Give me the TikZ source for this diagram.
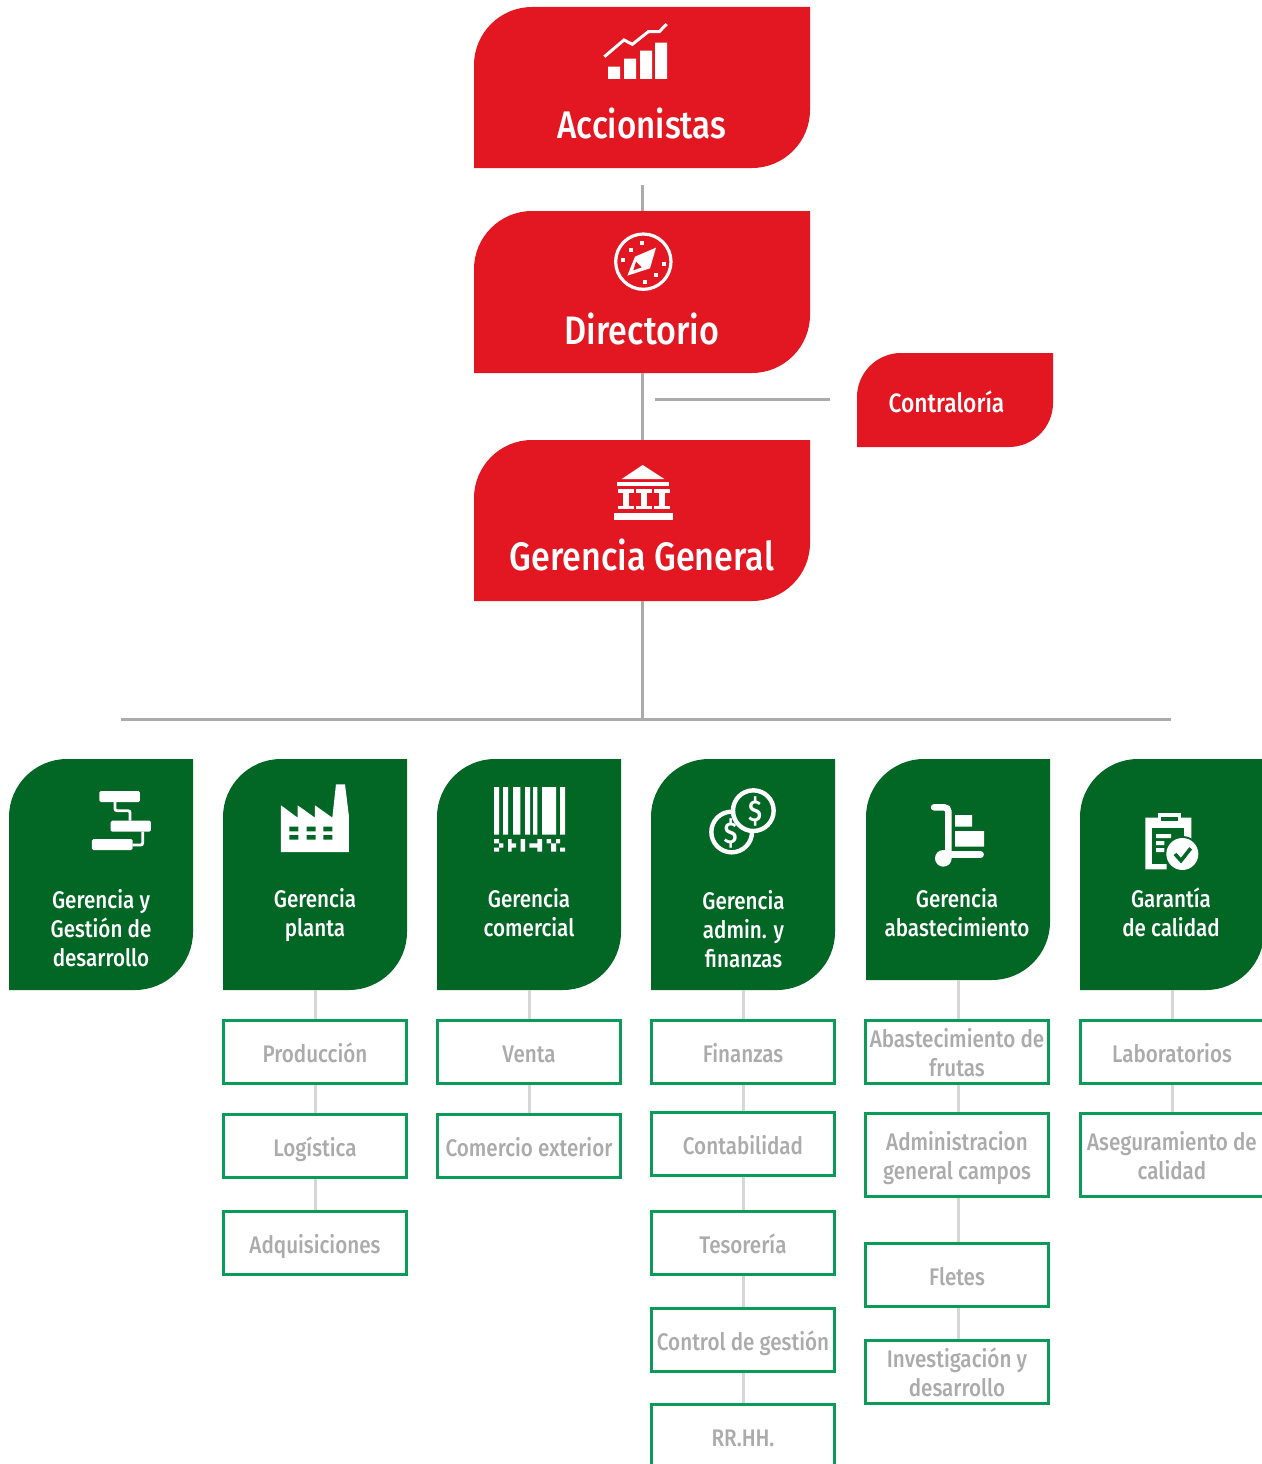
\documentclass[tikz,border=0pt]{standalone}
\usepackage{fontspec}
\setmainfont[FakeStretch=0.86]{Fira Sans}
\newfontfamily\headf[FakeStretch=0.86]{Fira Sans Medium}
\definecolor{myred}{HTML}{E21721}
\definecolor{mygreen}{HTML}{026625}
\definecolor{boxg}{HTML}{0A9B58}
\definecolor{linegrey}{HTML}{ABABAB}
\definecolor{sublinegrey}{HTML}{D6D6D6}
\definecolor{subtext}{HTML}{ABABAB}
% name, x1, y1, x2, y2, radius, colour
\newcommand{\leafnode}[7]{%
  \pgfmathsetmacro{\lcx}{(#2+#4)/2}\pgfmathsetmacro{\lcy}{(#3+#5)/2}%
  \pgfmathsetmacro{\lw}{#4-#2}\pgfmathsetmacro{\lh}{#5-#3}%
  \node[inner sep=0,outer sep=0,minimum width=\lw pt,minimum height=\lh pt] (#1) at (\lcx,\lcy) {};
  \fill[#7] (#2,#5) -- (#2,#3+#6) .. controls (#2,#3+0.45*#6) and (#2+0.45*#6,#3) .. (#2+#6,#3) -- (#4,#3) -- (#4,#5-#6) .. controls (#4,#5-0.45*#6) and (#4-0.45*#6,#5) .. (#4-#6,#5) -- cycle;
}
\tikzset{
  subbox/.style={draw=boxg,line width=3pt,fill=white,inner sep=0,outer sep=0},
  subtxt/.style={inner sep=0,outer sep=0,align=center,anchor=south,text depth=0pt,font=\headf\fontsize{24}{29}\selectfont,text=subtext},
  conn/.style={draw=linegrey,line width=3pt},
  subconn/.style={draw=sublinegrey,line width=3pt},
  hd/.style={text=white,align=center,inner sep=0},
  pin/.style={inner sep=0,minimum size=0},
  gt/.style={hd,font=\headf\fontsize{24}{29}\selectfont},
  bigt/.style={hd,font=\headf\fontsize{39.7}{44}\selectfont},
  icon/.style={shift={#1},scale=1/3},
}
% name, cx, cy, w, h, last baseline offset, text
\newcommand{\subb}[7]{\node[subbox,minimum width=#4 pt,minimum height=#5 pt] (#1) at (#2,#3) {};
  \node[subtxt] (#1t) at (#2,#3+#6) {#7};}
\begin{document}
\begin{tikzpicture}[x=1pt,y=1pt,yscale=-1]
\useasboundingbox (0,0) rectangle (1261,1464);
\fill[white] (0,0) rectangle (1261,1464);
\node[pin] (busleft) at (121,719) {};
\node[pin] (busright) at (1171,719) {};
\node[pin] (busmid) at (642,719) {};
\node[pin] (stubtop) at (642,185) {};
\node[pin] (branchl) at (655,399) {};
\node[pin] (branchr) at (830,399) {};
\leafnode{acc}{474}{7}{810}{168}{58}{myred}
\leafnode{dir}{474}{211}{810}{373}{58}{myred}
\leafnode{gen}{474}{440}{810}{601}{58}{myred}
\leafnode{con}{857}{353}{1053}{447}{44}{myred}
\draw[conn] (stubtop) -- (dir);
\draw[conn] (dir) -- (gen);
\draw[conn] (branchl) -- (branchr);
\draw[conn] (gen) -- (busmid);
\draw[conn] (busleft) -- (busright);
\node[hd,font=\headf\fontsize{38.5}{44}\selectfont] (acct) at (642,123) {Accionistas};
\node[bigt] (dirt) at (642,329) {Directorio};
\node[bigt] (gent) at (642,555) {Gerencia General};
\node[hd,font=\headf\fontsize{26.5}{32}\selectfont] (cont) at (946.5,402) {Contraloría};
\leafnode{g1}{9}{759}{193}{990}{58}{mygreen}
\leafnode{g2}{223}{759}{407}{990}{58}{mygreen}
\leafnode{g3}{437}{759}{621}{990}{58}{mygreen}
\leafnode{g4}{651}{759}{835}{990}{58}{mygreen}
\leafnode{g5}{866}{759}{1050}{980}{58}{mygreen}
\leafnode{g6}{1080}{759}{1264}{990}{58}{mygreen}
\node[gt] (g1t) at (101,928) {Gerencia y\\Gestión de\\desarrollo};
\node[gt] (g2t) at (315,915.5) {Gerencia\\planta};
\node[gt] (g3t) at (529,913) {Gerencia\\comercial};
\node[gt] (g4t) at (743.5,929) {Gerencia\\admin. y\\finanzas};
\node[gt] (g5t) at (957,913) {Gerencia\\abastecimiento};
\node[gt] (g6t) at (1171,912.5) {Garantía\\de calidad};
% sub connectors
\node[pin] (c2) at (315,1245) {};
\node[pin] (c3) at (529,1148) {};
\node[pin] (c4) at (743,1440) {};
\node[pin] (c5) at (958,1370) {};
\node[pin] (c6) at (1172,1155) {};
\draw[subconn] (g2) -- (c2);
\draw[subconn] (g3) -- (c3);
\draw[subconn] (g4) -- (c4);
\draw[subconn] (g5) -- (c5);
\draw[subconn] (g6) -- (c6);
\subb{s21}{315}{1052}{183}{63}{10}{Producción}
\subb{s22}{315}{1146}{183}{63}{10}{Logística}
\subb{s23}{315}{1243}{183}{63}{10}{Adquisiciones}
\subb{s31}{529}{1052}{183}{63}{10}{Venta}
\subb{s32}{529}{1146}{183}{63}{10}{Comercio exterior}
\subb{s41}{743}{1052}{183}{63}{10}{Finanzas}
\subb{s42}{743}{1144}{183}{63}{10}{Contabilidad}
\subb{s43}{743}{1243}{183}{63}{10}{Tesorería}
\subb{s44}{743}{1340}{183}{63}{10}{Control de gestión}
\subb{s45}{743}{1436}{183}{63}{10}{RR.HH.}
\subb{s51}{957}{1052}{183}{63}{24}{Abastecimiento de\\frutas}
\subb{s52}{957}{1154.5}{183}{83}{24.5}{Administracion\\general campos}
\subb{s53}{957}{1275}{183}{63}{10}{Fletes}
\subb{s54}{957}{1372}{183}{63}{24}{Investigación y\\desarrollo}
\subb{s61}{1172}{1052}{183}{63}{10}{Laboratorios}
\subb{s62}{1172}{1154.5}{183}{83}{24.5}{Aseguramiento de\\calidad}
% --- icons: coordinates are 3x, relative to the given origin
% chart
\begin{scope}[icon={(470,0)}]
\draw[white,line width=3pt,miter limit=2] (403,170) -- (462,120) -- (487,133) -- (535,95) -- (568,95) -- (590,72);
\fill[white] (414,200) rectangle (450,237) (462,176) rectangle (498,237) (510,152) rectangle (546,237) (555,128) rectangle (591,237);
\end{scope}
% compass
\begin{scope}[icon={(470,0)}]
\draw[white,line width=3.2pt] (520,785) circle (83);
\fill[white] (558,743) -- (495,770) -- (472,827) -- (540,805) -- cycle;
\fill[myred] (498,785) -- (515,802) -- (490,811) -- cycle;
\foreach \dx/\dy in {516/728,483/749,459/779,582/791,558/824,525/845}
  \fill[white] (\dx-6,\dy-6) rectangle (\dx+6,\dy+6);
\end{scope}
% bank
\begin{scope}[icon={(570,440)}]
\fill[white] (155,117) -- (218,75) -- (283,117) -- cycle;
\fill[white] (141,126) rectangle (297,137);
\fill[white] (132,220) rectangle (309,240);
\foreach \cx in {169,222,275}{
  \fill[white] (\cx-24,147) rectangle (\cx+24,158);
  \fill[white] (\cx-9,158) rectangle (\cx+9,198);
  \fill[white] (\cx-24,198) rectangle (\cx+24,208);
}
\end{scope}
% flow chart
\begin{scope}[icon={(0,750)}]
\fill[white,rounded corners=1.5pt] (298,123) rectangle (420,156) (332,212) rectangle (453,245) (276,267) rectangle (398,300);
\draw[white,line width=2.8pt,rounded corners=2pt] (345,156) -- (345,182) -- (390,182) -- (390,212);
\draw[white,line width=2.8pt,rounded corners=2pt] (428,245) -- (428,285) -- (398,285);
\end{scope}
% factory
\begin{scope}[icon={(0,750)}]
\fill[white] (843,306) -- (843,166) -- (893,203) -- (893,166) -- (945,203) -- (945,166) -- (997,203) -- (1008,103) -- (1035,103) -- (1047,200) -- (1047,306) -- cycle;
\fill[mygreen] (868,230) rectangle (895,244) (920,230) rectangle (947,244) (970,230) rectangle (997,244)
  (868,255) rectangle (895,269) (920,255) rectangle (947,269) (970,255) rectangle (997,269);
\end{scope}
% barcode
\begin{scope}[icon={(430,750)}]
\fill[white] (192,111) rectangle (207,254) (219,111) rectangle (234,254) (249,111) rectangle (271,254) (285,111) rectangle (300,254) (309,111) rectangle (322,254) (336,111) rectangle (378,254) (390,111) rectangle (405,254);
\fill[white] (192,267) rectangle (207,280) (207,280) rectangle (220,293) (192,293) rectangle (207,305)
  (234,267) rectangle (245,305) (245,280) rectangle (258,293)
  (272,267) rectangle (285,305)
  (298,280) rectangle (322,293) (322,267) rectangle (336,305)
  (350,267) rectangle (363,280) (363,280) rectangle (378,305) (378,267) rectangle (390,280)
  (390,293) rectangle (405,305);
\end{scope}
% coins
\begin{scope}[icon={(430,750)}]
\draw[white,line width=4.4pt] (905,246) circle (61);
\node[pin,text=white,font=\headf\fontsize{30}{30}\selectfont] (dollarb) at (902,250) {\$};
\filldraw[fill=mygreen,draw=white,line width=4.4pt] (970,182) circle (61);
\node[pin,text=white,font=\headf\fontsize{30}{30}\selectfont] (dollara) at (975,184) {\$};
\end{scope}
% cart
\begin{scope}[icon={(850,750)}]
\draw[white,line width=6.5pt,line cap=round,rounded corners=4pt] (252,172) -- (295,172) -- (295,310);
\draw[white,line width=6.5pt,line cap=round] (285,314) -- (392,314);
\fill[white] (280,325) circle (25);
\fill[white] (315,195) rectangle (366,230) (315,243) rectangle (402,290);
\end{scope}
% clipboard
\begin{scope}[icon={(850,750)}]
\fill[white] (886,203) -- (1024,203) -- (1024,270) -- (950,342) -- (950,358) -- (886,358) -- cycle;
\fill[mygreen] (906,233) rectangle (1003,342);
\fill[white] (925,190) rectangle (993,232);
\fill[mygreen] (932,200) rectangle (985,212);
\fill[white] (918,252) rectangle (963,264) (918,273) rectangle (943,285) (918,294) rectangle (943,306);
\fill[mygreen] (997,312) circle (54);
\fill[white] (997,312) circle (48);
\draw[mygreen,line width=3.6pt] (975,312) -- (993,332) -- (1022,295);
\end{scope}
\end{tikzpicture}
\end{document}
